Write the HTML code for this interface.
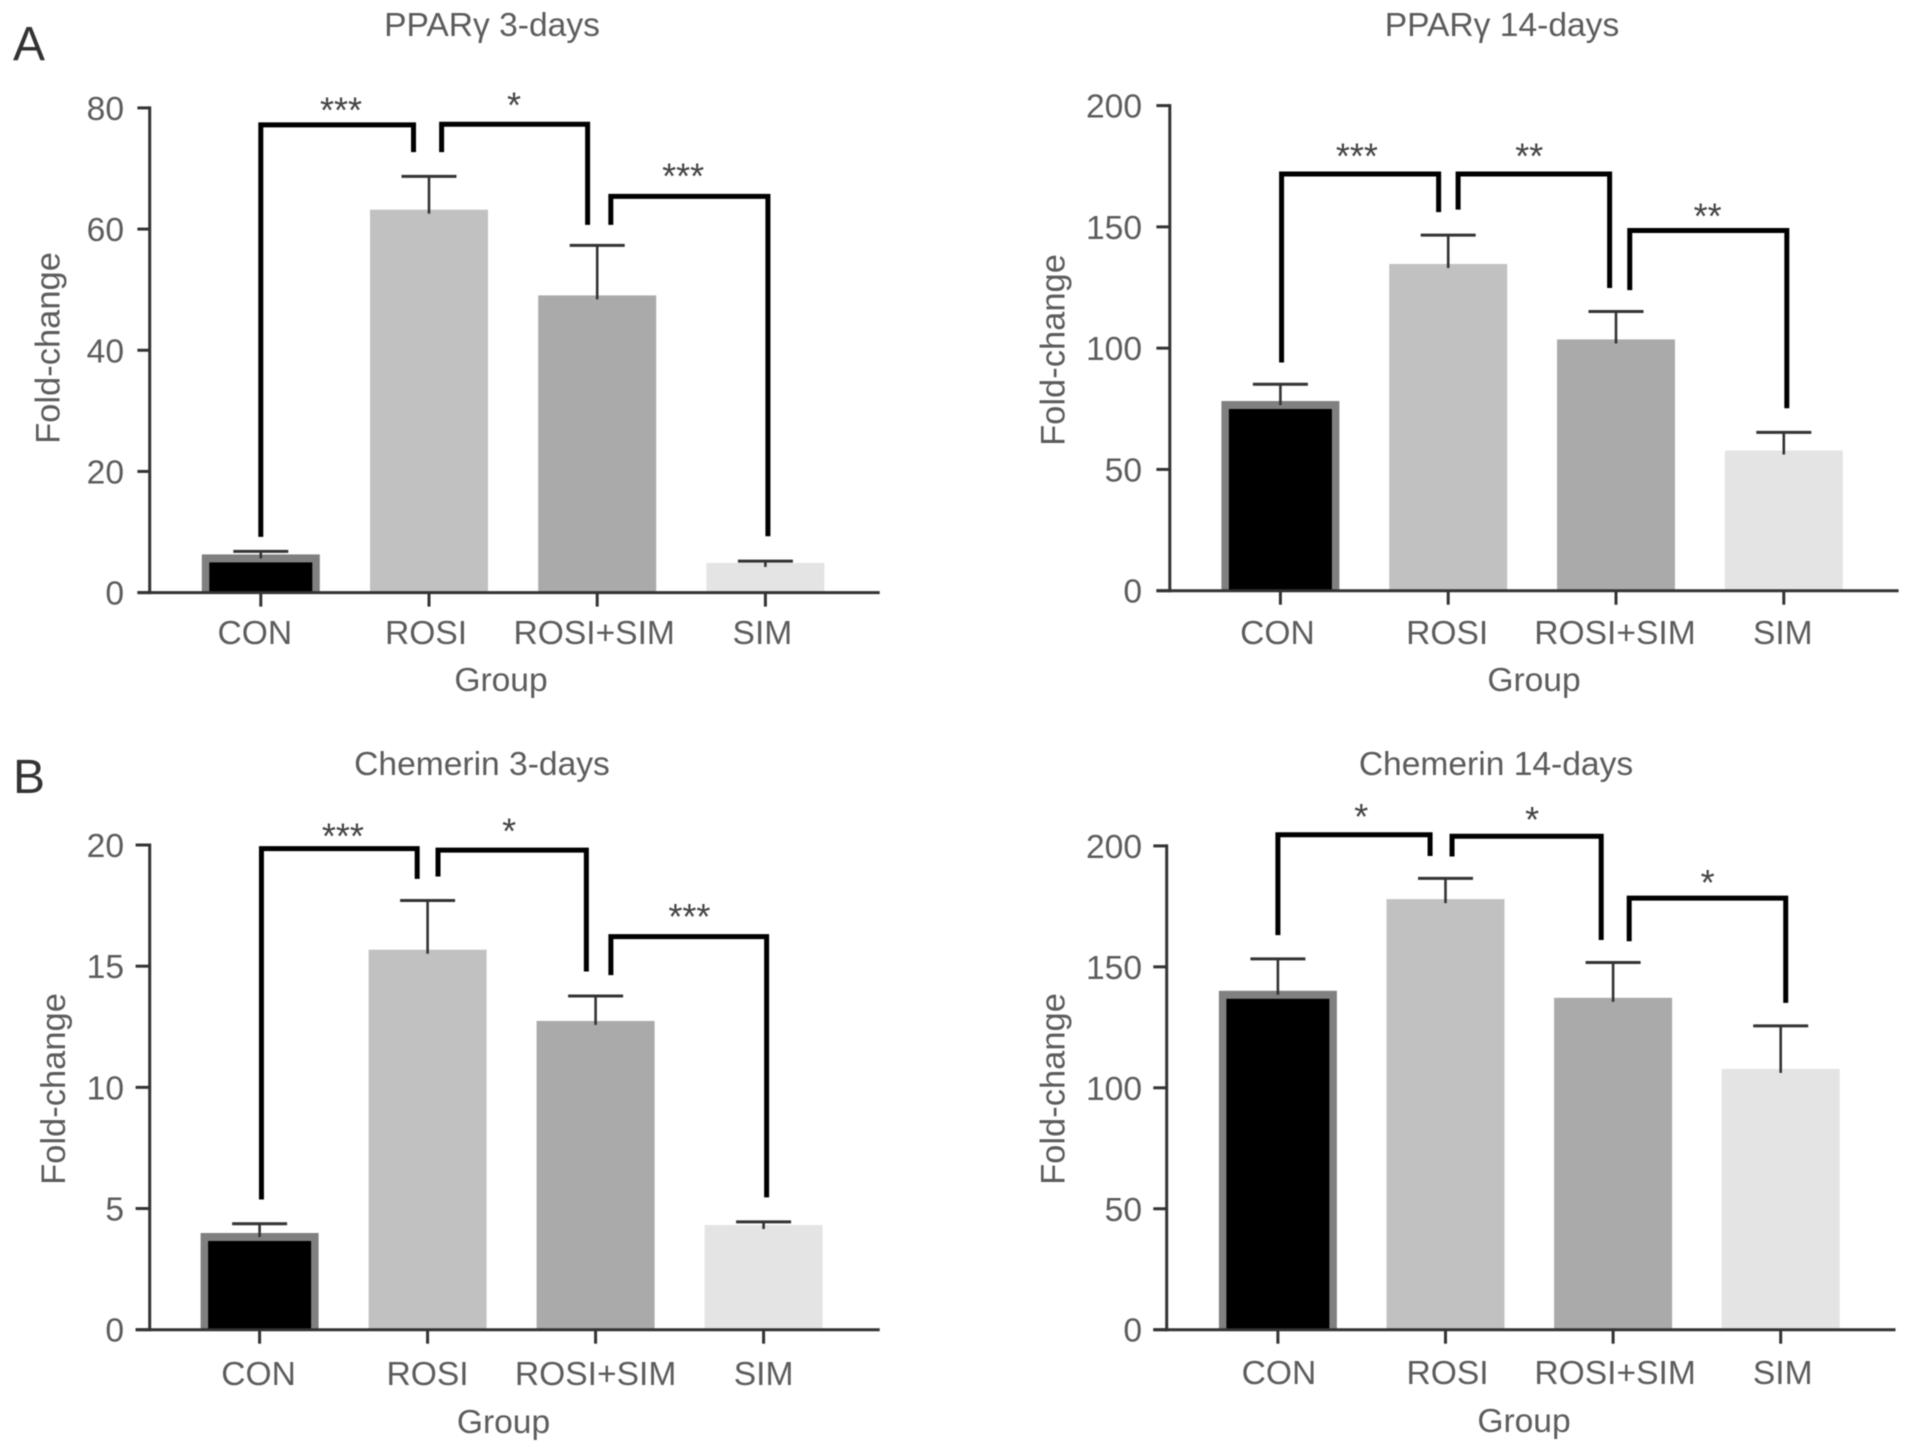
<!DOCTYPE html>
<html lang="en">
<head>
<meta charset="utf-8">
<title>PPARγ and Chemerin fold-change bar charts</title>
<style>
  html, body { margin: 0; padding: 0; background: #fff; }
  #figure { display: block; width: 1913px; height: 1452px; filter: blur(0.5px); }
  text { font-family: "Liberation Sans", sans-serif; fill: #5c5c5c; }
</style>
</head>
<body>
<svg id="figure" xmlns="http://www.w3.org/2000/svg" width="1913" height="1452" viewBox="0 0 1913 1452">
  <text x="13" y="60" font-size="48" style="fill:#333">A</text>
  <text x="13" y="793" font-size="48" style="fill:#333">B</text>
</svg>
<script>
const categories = ['CON', 'ROSI', 'ROSI+SIM', 'SIM'];

const ppar3Ticks = [0, 20, 40, 60, 80];
const ppar3Values = [6.3, 63.2, 49.05, 4.9];
const ppar3ErrorTops = [6.8, 68.7, 57.3, 5.2];
const ppar3BracketFrom = [0, 1.075, 2.081];
const ppar3BracketTo = [0.908, 1.943, 3.015];
const ppar3BracketLevels = [77.2, 77.3, 65.4];
const ppar3BracketLeftEnds = [9.2, 72.7, 60.7];
const ppar3BracketRightEnds = [72.7, 60.7, 9.3];
const ppar3Stars = ['***', '*', '***'];
const ppar3StarCats = [0.483, 1.511, 2.517];
const ppar3StarLevels = [80.6, 81.4, 69.7];

const ppar14Ticks = [0, 50, 100, 150, 200];
const ppar14Values = [78.2, 134.7, 103.6, 57.8];
const ppar14ErrorTops = [85.1, 146.6, 115.1, 65.3];
const ppar14BracketFrom = [0.007, 1.059, 2.082];
const ppar14BracketTo = [0.943, 1.962, 3.018];
const ppar14BracketLevels = [171.8, 171.8, 148.5];
const ppar14BracketLeftEnds = [94.1, 157.1, 123.9];
const ppar14BracketRightEnds = [156.1, 124.8, 75.2];
const ppar14Stars = ['***', '**', '**'];
const ppar14StarCats = [0.462, 1.489, 2.552];
const ppar14StarLevels = [181.5, 181.5, 156.7];

const chem3Ticks = [0, 5, 10, 15, 20];
const chem3Values = [3.99, 15.68, 12.74, 4.32];
const chem3ErrorTops = [4.37, 17.71, 13.77, 4.45];
const chem3BracketFrom = [0.011, 1.062, 2.091];
const chem3BracketTo = [0.938, 1.945, 3.018];
const chem3BracketLevels = [19.85, 19.79, 16.22];
const chem3BracketLeftEnds = [5.37, 18.7, 14.63];
const chem3BracketRightEnds = [18.6, 14.78, 5.46];
const chem3Stars = ['***', '*', '***'];
const chem3StarCats = [0.502, 1.491, 2.564];
const chem3StarLevels = [20.6, 20.8, 17.27];

const chem14Ticks = [0, 50, 100, 150, 200];
const chem14Values = [140.1, 178, 137.2, 107.8];
const chem14ErrorTops = [153.3, 186.6, 151.8, 125.6];
const chem14BracketFrom = [0, 1.039, 2.096];
const chem14BracketTo = [0.908, 1.929, 3.03];
const chem14BracketLevels = [204.6, 204, 178.4];
const chem14BracketLeftEnds = [163.1, 195.6, 160.6];
const chem14BracketRightEnds = [195.8, 161.1, 135.1];
const chem14Stars = ['*', '*', '*'];
const chem14StarCats = [0.503, 1.523, 2.57];
const chem14StarLevels = [214.5, 213.2, 187.2];

const NS = 'http://www.w3.org/2000/svg';
const svg = document.getElementById('figure');
const barFills = ['#000000', '#c1c1c1', '#aaaaaa', '#e4e4e4'];

function mk(tag, parent, attrs, txt) {
  const el = document.createElementNS(NS, tag);
  for (const k in attrs) el.setAttribute(k, attrs[k]);
  if (txt !== undefined) el.textContent = txt;
  parent.appendChild(el);
  return el;
}

function drawPanel(p, L) {
  const g = mk('g', svg, {});
  
  

  const maxTick = p.ticks[p.ticks.length - 1];
  const y = v => L.y0 - (v / maxTick) * (L.y0 - L.yTop);
  const x = c => L.cat0 + c * L.step;
  const barW = 118, fs = 33.6;

  const title = mk('text', g, { x: L.titleX, y: L.titleY, 'text-anchor': 'middle', 'font-size': fs }, p.title);
  
  

  // bars
  p.values.forEach((v, i) => {
    const bar = mk('rect', g, { x: x(i) - barW / 2, y: y(v), width: barW, height: L.y0 - y(v), fill: i === 0 ? '#808080' : barFills[i] });
    
    
    if (i === 0) {
      const inner = mk('rect', g, { x: x(i) - barW / 2 + 7.5, y: y(v) + 8, width: barW - 15, height: Math.max(0, L.y0 - y(v) - 8), fill: barFills[0] });
      
      
    }
  });

  // error bars
  p.errors.forEach((e, i) => {
    const stem = mk('line', g, { x1: x(i), x2: x(i), y1: y(e), y2: y(p.values[i]) + 4, stroke: '#333', 'stroke-width': 2.6 });
    
    
    const cap = mk('line', g, { x1: x(i) - 27.5, x2: x(i) + 27.5, y1: y(e), y2: y(e), stroke: '#333', 'stroke-width': 3 });
    
    
  });

  // axes
  const yAxis = mk('line', g, { x1: L.axisX, x2: L.axisX, y1: L.yTop - 1.5, y2: L.y0 + 1.5, stroke: '#333', 'stroke-width': 3 });
  
  
  const xAxis = mk('line', g, { x1: L.tickLeft, x2: L.right, y1: L.y0, y2: L.y0, stroke: '#333', 'stroke-width': 3 });
  
  

  p.ticks.forEach(t => {
    const tick = mk('line', g, { x1: L.tickLeft, x2: L.axisX, y1: y(t), y2: y(t), stroke: '#333', 'stroke-width': 3 });
    
    
    const lab = mk('text', g, { x: L.yLabelX, y: y(t) + 12, 'text-anchor': 'end', 'font-size': 33.6 }, String(t));
    
    
  });

  categories.forEach((c, i) => {
    const tick = mk('line', g, { x1: x(i), x2: x(i), y1: L.y0, y2: L.y0 + 14, stroke: '#333', 'stroke-width': 3 });
    
    
    const lab = mk('text', g, { x: x(i) + L.labelDx + (i === 0 ? L.conDx : 0), y: L.xLabelY, 'text-anchor': 'middle', 'font-size': fs }, c);
    
    
  });

  const xTitle = mk('text', g, { x: L.groupX, y: L.groupY, 'text-anchor': 'middle', 'font-size': fs }, 'Group');
  
  

  const yTitle = mk('text', g, { transform: 'translate(' + L.foldX + ' ' + L.foldY + ') rotate(-90)', 'text-anchor': 'middle', 'font-size': 34.5 }, 'Fold-change');
  
  

  // significance brackets
  p.bFrom.forEach((from, i) => {
    const d = 'M' + x(from) + ' ' + y(p.bLeft[i]) + ' V' + y(p.bLevel[i]) + ' H' + x(p.bTo[i]) + ' V' + y(p.bRight[i]);
    const br = mk('path', g, { d: d, fill: 'none', stroke: '#000', 'stroke-width': 5 });
    
    
  });
  p.stars.forEach((s, i) => {
    const st = mk('text', g, { x: x(p.starCats[i]) - 1, y: y(p.starLevels[i]) + 18, 'text-anchor': 'middle', 'font-size': 36, style: 'fill:#444' }, s);
    
    
  });
}

drawPanel(
  { key: 'ppar-3-days', title: 'PPARγ 3-days', ticks: ppar3Ticks, values: ppar3Values, errors: ppar3ErrorTops,
    bFrom: ppar3BracketFrom, bTo: ppar3BracketTo, bLevel: ppar3BracketLevels, bLeft: ppar3BracketLeftEnds, bRight: ppar3BracketRightEnds,
    stars: ppar3Stars, starCats: ppar3StarCats, starLevels: ppar3StarLevels },
  { y0: 592.6, yTop: 107.9, axisX: 149.7, cat0: 260.8, step: 168.2, right: 879.7, tickLeft: 137.4, yLabelX: 124, labelDx: -3, conDx: -3,
    xLabelY: 644, titleX: 492, titleY: 36, groupX: 501, groupY: 691, foldX: 59.5, foldY: 348 });

drawPanel(
  { key: 'ppar-14-days', title: 'PPARγ 14-days', ticks: ppar14Ticks, values: ppar14Values, errors: ppar14ErrorTops,
    bFrom: ppar14BracketFrom, bTo: ppar14BracketTo, bLevel: ppar14BracketLevels, bLeft: ppar14BracketLeftEnds, bRight: ppar14BracketRightEnds,
    stars: ppar14Stars, starCats: ppar14StarCats, starLevels: ppar14StarLevels },
  { y0: 590.7, yTop: 105.6, axisX: 1169.8, cat0: 1280.4, step: 167.8, right: 1898.6, tickLeft: 1156.4, yLabelX: 1142, labelDx: -1, conDx: -2,
    xLabelY: 644, titleX: 1502, titleY: 36, groupX: 1534, groupY: 691, foldX: 1064.5, foldY: 350 });

drawPanel(
  { key: 'chemerin-3-days', title: 'Chemerin 3-days', ticks: chem3Ticks, values: chem3Values, errors: chem3ErrorTops,
    bFrom: chem3BracketFrom, bTo: chem3BracketTo, bLevel: chem3BracketLevels, bLeft: chem3BracketLeftEnds, bRight: chem3BracketRightEnds,
    stars: chem3Stars, starCats: chem3StarCats, starLevels: chem3StarLevels },
  { y0: 1329.7, yTop: 845, axisX: 149.7, cat0: 259.6, step: 168, right: 879.7, tickLeft: 135.6, yLabelX: 124, labelDx: 0, conDx: -1,
    xLabelY: 1385, titleX: 482, titleY: 775, groupX: 503.5, groupY: 1433, foldX: 65, foldY: 1089 });

drawPanel(
  { key: 'chemerin-14-days', title: 'Chemerin 14-days', ticks: chem14Ticks, values: chem14Values, errors: chem14ErrorTops,
    bFrom: chem14BracketFrom, bTo: chem14BracketTo, bLevel: chem14BracketLevels, bLeft: chem14BracketLeftEnds, bRight: chem14BracketRightEnds,
    stars: chem14Stars, starCats: chem14StarCats, starLevels: chem14StarLevels },
  { y0: 1329.7, yTop: 845.9, axisX: 1166.7, cat0: 1277.9, step: 167.6, right: 1895.5, tickLeft: 1153.3, yLabelX: 1142, labelDx: 2, conDx: -1,
    xLabelY: 1384, titleX: 1496, titleY: 775, groupX: 1524, groupY: 1432, foldX: 1064.5, foldY: 1089 });
</script>
</body>
</html>
